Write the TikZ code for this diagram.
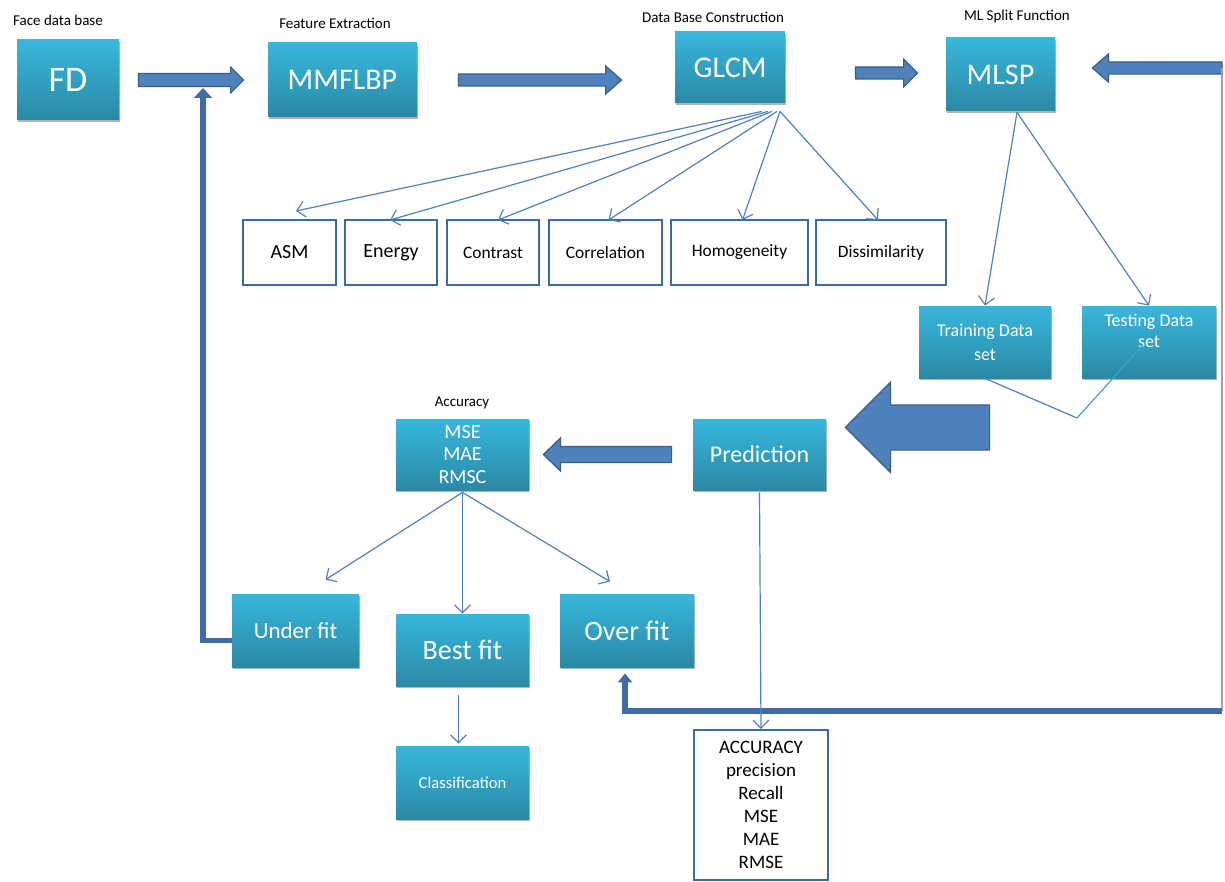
\documentclass[tikz,border=0pt]{standalone}
\usepackage{fontspec}
\setmainfont{Carlito}
\usetikzlibrary{calc,shadows,arrows.meta}
\definecolor{cyT}{HTML}{37B7DD}
\definecolor{cyB}{HTML}{2A89A4}
\definecolor{blk}{HTML}{4F81BD}
\definecolor{blkD}{HTML}{385D8A}
\definecolor{ln}{HTML}{4F81BD}
\definecolor{bx}{HTML}{3C6AA2}
\definecolor{fbc}{HTML}{416BA6}
\newcommand\fsz[2]{\fontsize{#1}{#2}\selectfont}
% block arrow: start, end, shaft half, head half, head length (pt)
\newcommand\barrow[5]{\filldraw[blkarrow] let \p1=#1, \p2=#2, \n1={sign(\x2-\x1)*#5} in
  (\x1,\y1-#3) -- (\x2-\n1,\y1-#3) -- (\x2-\n1,\y1-#4) -- (\x2,\y1) --
  (\x2-\n1,\y1+#4) -- (\x2-\n1,\y1+#3) -- (\x1,\y1+#3) -- cycle;}
\begin{document}
\begin{tikzpicture}[x=0.5pt,y=-0.5pt,
  cbox/.style={rectangle, top color=cyT, bottom color=cyB, draw=none,
    drop shadow={shadow xshift=0.6pt,shadow yshift=-1.2pt,opacity=.3,fill=black},
    text=white, inner sep=0pt, align=center},
  wbox/.style={rectangle, draw=bx, line width=1pt, fill=white, text=black, inner sep=0pt, align=center},
  lab/.style={text=black, font=\fsz{7.5}{9}},
  thinarr/.style={draw=ln, line width=0.6pt, -{Straight Barb[length=4pt,width=8pt]}},
  blkarrow/.style={fill=blk, draw=blkD, line width=0.6pt},
  fbthick/.style={draw=fbc, line width=2.6pt},
]
\useasboundingbox (0,0) rectangle (1225,882);

% labels
\node[lab] (lFD) at (58,20) {Face data base};
\node[lab] (lMM) at (335,23) {Feature Extraction};
\node[lab] (lGL) at (713,17) {Data Base Construction};
\node[lab] (lML) at (1017,17) {ML Split Function};
\node[lab] (lAc) at (462,403) {Accuracy};

% top row
\node[cbox, minimum width=51pt, minimum height=40pt, font=\fsz{18}{20}] (FD) at (68,80) {FD};
\node[cbox, minimum width=74.5pt, minimum height=37pt, font=\fsz{15}{17}] (MMF) at (342.5,80) {MMFLBP};
\node[cbox, minimum width=55pt, minimum height=35.5pt, font=\fsz{15}{17}] (GLCM) at (730,67.5) {GLCM};
\node[cbox, minimum width=54.5pt, minimum height=36.5pt, font=\fsz{15}{17}] (MLSP) at (1000.5,74.5) {MLSP};

% feature boxes
\node[wbox, minimum width=46.5pt, minimum height=32.5pt, font=\fsz{10}{12}] (ASM) at (289.5,252.5) {ASM};
\node[wbox, minimum width=46pt, minimum height=32.5pt, font=\fsz{10}{12}] (Ene) at (391,252.5) {Energy};
\node[wbox, minimum width=46pt, minimum height=32.5pt, font=\fsz{8.7}{10}] (Con) at (493,252.5) {Contrast};
\node[wbox, minimum width=56.5pt, minimum height=32.5pt, font=\fsz{8.7}{10}] (Cor) at (605.5,252.5) {Correlation};
\node[wbox, minimum width=68.5pt, minimum height=32.5pt, font=\fsz{8.7}{10}] (Hom) at (739.5,252.5) {Homogeneity};
\node[wbox, minimum width=65pt, minimum height=32.5pt, font=\fsz{8.7}{10}] (Dis) at (881,252.5) {Dissimilarity};

% split
\node[cbox, minimum width=66pt, minimum height=36pt, font=\fsz{9}{12}] (Train) at (985,342) {Training Data\\set};
\node[cbox, minimum width=67pt, minimum height=36pt] (Test) at (1149,342) {};
\node[text=white, align=center, font=\fsz{9}{10.5}] (TestT) at (1149,331) {Testing Data\\set};

% middle
\node[cbox, minimum width=66.5pt, minimum height=35.5pt, font=\fsz{12}{14}] (Pred) at (759.5,454.5) {Prediction};
\node[cbox, minimum width=66.5pt, minimum height=35.5pt, font=\fsz{10}{11.25}] (Acc) at (462.5,454.5) {MSE\\MAE\\RMSC};

% fits
\node[cbox, minimum width=63.5pt, minimum height=36.5pt, font=\fsz{11.5}{13}] (Under) at (295.5,630.5) {Under fit};
\node[cbox, minimum width=66.5pt, minimum height=36pt, font=\fsz{14}{16}] (Best) at (462.5,650) {Best fit};
\node[cbox, minimum width=67pt, minimum height=36.5pt, font=\fsz{14}{16}] (Over) at (627,630.5) {Over fit};
\node[cbox, minimum width=66.5pt, minimum height=36.5pt, font=\fsz{8.3}{10}] (Class) at (462.5,782.5) {Classification};
\node[wbox, minimum width=67pt, minimum height=75pt, font=\fsz{9.5}{11.5}] (Met) at (761,805) {ACCURACY\\precision\\Recall\\MSE\\MAE\\RMSE};

% block arrows
\coordinate (r1) at (1222,68);
\coordinate (r2) at (1222,711);
\coordinate (uf) at (203,88);
\barrow{($(FD.east)+(19,0)$)}{($(MMF.west)+(-24,0)$)}{3.25}{6.5}{6.5}
\barrow{($(MMF.east)+(41,0)$)}{($(GLCM.west)+(-53,0)$)}{3}{7}{8}
\barrow{($(GLCM.east)+(70,5.5)$)}{($(MLSP.west)+(-28,0)$)}{3}{7}{7}
\barrow{(r1)}{($(MLSP.east)+(37,0)$)}{3}{7}{8}
\barrow{($(Pred.west)+(-21,0)$)}{($(Acc.east)+(14,0)$)}{4}{8.25}{8.5}
\barrow{($(Train.south west)+(71,49)$)}{($(Pred.east)+(19,0)$)}{11.25}{22.5}{22.5}

% feedback lines
\draw[fbthick, -{Triangle[width=9pt,length=5pt]}] ($(Under.west)+(0,10)$) -| (uf);
\draw[draw=blk!70, line width=1.2pt] (r1) -- (r2);
\draw[fbthick, -{Triangle[width=7pt,length=4.5pt]}] (r2) -| ($(Over.south)+(-2,6)$);

% thin arrows from GLCM
\draw[thinarr] ($(GLCM.south)+(32,8)$) -- ($(ASM.north)+(6.5,-8)$);
\draw[thinarr] ($(GLCM.south)+(38,8)$) -- ($(Ene.north)+(-1,1)$);
\draw[thinarr] ($(GLCM.south)+(42,8)$) -- ($(Con.north)+(5,1)$);
\draw[thinarr] ($(GLCM.south)+(47,8)$) -- ($(Cor.north)+(3,1)$);
\draw[thinarr] ($(GLCM.south)+(50,8)$) -- ($(Hom.north)+(3,1)$);
\draw[thinarr] ($(GLCM.south)+(50,8)$) -- ($(Dis.north)+(-3,1)$);

% MLSP split
\draw[thinarr] ($(MLSP.south)+(16.5,1)$) -- (Train.north);
\draw[thinarr] ($(MLSP.south)+(16.5,1)$) -- (Test.north);
\coordinate (vj) at (1077,418);
\draw[draw=ln, line width=0.6pt] (Train.south) -- (vj);
\draw[draw=cyT!60!ln, line width=0.6pt] (vj) -- ($(Test.center)+(-6,3)$);

% accuracy branches
\draw[thinarr] ($(Acc.south)+(0,2)$) -- ($(Under.north)+(30,-14)$);
\draw[thinarr] ($(Acc.south)+(0,2)$) -- (Best.north);
\draw[thinarr] ($(Acc.south)+(0,2)$) -- ($(Over.north)+(-17,-12)$);
\draw[thinarr] ($(Best.south)+(-4,9)$) -- ($(Class.north)+(-4,-2)$);
\draw[thinarr] ($(Pred.south)+(0,2)$) -- (Met.north);
\end{tikzpicture}
\end{document}
